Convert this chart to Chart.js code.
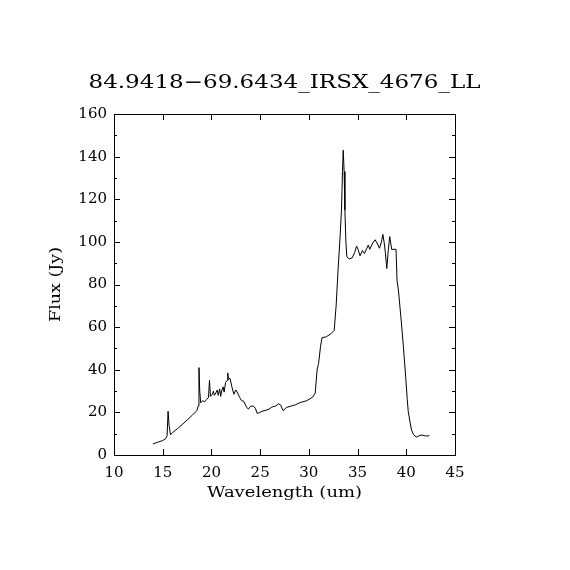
<!DOCTYPE html>
<html>
<head>
<meta charset="utf-8">
<script src="https://cdn.jsdelivr.net/npm/chart.js@4.4.1/dist/chart.umd.min.js"></script>
<style>
  html, body { margin: 0; padding: 0; background: #fff; }
  #wrap { width: 570px; height: 570px; }
</style>
</head>
<body>
<div id="wrap"><canvas id="spec" width="570" height="570"></canvas></div>
<script>
// spectrum
const wavelength = [
  14.0, 14.5, 15.0, 15.3, 15.45, 15.55, 15.65, 15.8, 16.0, 16.5,
  17.0, 17.5, 18.0, 18.5, 18.65, 18.72, 18.8, 18.9, 19.1, 19.3,
  19.5, 19.7, 19.8, 19.9, 20.1, 20.2, 20.3, 20.5, 20.6, 20.7,
  20.85, 20.95, 21.05, 21.2, 21.3, 21.45, 21.6, 21.68, 21.75, 21.9,
  22.1, 22.3, 22.5, 22.7, 22.9, 23.1, 23.3, 23.6, 23.8, 24.0,
  24.3, 24.5, 24.7, 24.9, 25.2, 25.6, 25.9, 26.2, 26.6, 26.9,
  27.1, 27.35, 27.7, 28.2, 28.6, 29.1, 29.8, 30.4, 30.65, 30.85,
  31.0, 31.2, 31.35, 31.8, 32.3, 32.6, 32.8, 33.0, 33.2, 33.35,
  33.45, 33.53, 33.62, 33.7, 33.8, 33.9, 34.15, 34.45, 34.7, 34.9,
  35.05, 35.25, 35.5, 35.7, 35.95, 36.1, 36.25, 36.5, 36.8, 37.05,
  37.25, 37.45, 37.6, 37.75, 37.85, 38.0, 38.15, 38.3, 38.5, 38.95,
  39.05, 39.2, 39.5, 39.7, 39.95, 40.1, 40.2, 40.4, 40.55, 40.75,
  41.05, 41.3, 41.6, 41.9, 42.1, 42.35
];
const flux = [
  5.2, 6.0, 6.8, 7.6, 9.0, 20.5, 14.0, 9.5, 10.5, 12.3,
  14.3, 16.4, 18.5, 20.8, 23.0, 41.0, 30.0, 24.5, 25.5, 25.0,
  26.0, 27.0, 35.0, 27.5, 28.5, 30.0, 28.0, 29.5, 30.5, 28.0,
  31.0, 27.5, 30.0, 32.0, 29.5, 34.0, 35.0, 38.5, 35.5, 36.0,
  32.0, 28.5, 30.5, 29.0, 27.0, 25.5, 25.3, 22.5, 21.5, 22.8,
  23.0, 22.0, 19.5, 19.8, 20.5, 21.0, 21.5, 22.5, 23.0, 24.0,
  23.5, 20.8, 22.3, 23.0, 23.5, 24.6, 25.5, 27.2, 29.0, 40.0,
  43.0, 51.0, 55.0, 55.5, 57.0, 58.5, 70.0, 87.0, 102.0, 115.0,
  133.0, 143.0, 133.0, 115.0, 100.0, 93.0, 92.0, 92.5, 95.0, 98.0,
  96.5, 93.5, 96.0, 94.5, 97.0, 98.5, 96.5, 99.0, 101.0, 99.0,
  97.0, 100.0, 103.5, 99.0, 95.0, 87.5, 96.0, 102.5, 96.5, 96.5,
  82.0, 77.0, 62.0, 51.0, 36.0, 26.0, 20.5, 15.0, 11.5, 9.5,
  8.4, 9.0, 9.4, 9.0, 8.9, 9.1
];

const xRange = [10, 45];
const yRange = [0, 160];
const xStep = 5;
const yStep = 20;
const yMinorStep = 10;

const titleText = '84.9418\u221269.6434_IRSX_4676_LL';
const xLabel = 'Wavelength (um)';
const yLabel = 'Flux (Jy)';

const serif = '"DejaVu Serif", "Liberation Serif", serif';

// the original font is wider than DejaVu, so squeeze/stretch text to a width
function wideText(ctx, text, x, y, size, width) {
  ctx.save();
  ctx.font = size + 'px ' + serif;
  const w = ctx.measureText(text).width;
  ctx.translate(x, y);
  ctx.scale(width / w, 1);
  ctx.fillText(text, 0, 0);
  ctx.restore();
}

// frame + inward ticks on all four sides, plus titles
const framePlugin = {
  id: 'frame',
  afterDraw(chart) {
    const ctx = chart.ctx;
    const a = chart.chartArea;
    const xs = chart.scales.x, ys = chart.scales.y;
    ctx.save();
    ctx.strokeStyle = '#000';
    ctx.lineWidth = 1;
    ctx.strokeRect(a.left + 0.5, a.top + 0.5, a.right - a.left, a.bottom - a.top);
    ctx.beginPath();
    xs.ticks.forEach(t => {
      const px = Math.round(xs.getPixelForValue(t.value)) + 0.5;
      ctx.moveTo(px, a.bottom); ctx.lineTo(px, a.bottom - 6);
      ctx.moveTo(px, a.top); ctx.lineTo(px, a.top + 6);
    });
    for (let v = yRange[0]; v <= yRange[1]; v += yMinorStep) {
      const len = (v % yStep === 0) ? 6 : 3;
      const py = Math.round(ys.getPixelForValue(v)) + 0.5;
      ctx.moveTo(a.left, py); ctx.lineTo(a.left + len, py);
      ctx.moveTo(a.right, py); ctx.lineTo(a.right - len, py);
    }
    ctx.stroke();

    ctx.fillStyle = '#000';
    ctx.textAlign = 'center';
    ctx.textBaseline = 'alphabetic';
    const cx = (a.left + a.right) / 2;
    wideText(ctx, titleText, cx, 88, 19, 392);
    wideText(ctx, xLabel, cx, 497, 15, 155);
    ctx.translate(60, (a.top + a.bottom) / 2);
    ctx.rotate(-Math.PI / 2);
    wideText(ctx, yLabel, 0, 0, 15, 75);
    ctx.restore();
  }
};

new Chart(document.getElementById('spec'), {
  type: 'line',
  data: {
    datasets: [{
      data: wavelength.map((w, i) => ({ x: w, y: flux[i] })),
      borderColor: '#000',
      borderWidth: 1,
      pointRadius: 0,
      tension: 0,
      fill: false
    }]
  },
  options: {
    responsive: false,
    animation: false,
    layout: { padding: { top: 114, right: 115, left: 0, bottom: 0 } },
    plugins: { legend: { display: false }, tooltip: { enabled: false } },
    scales: {
      x: {
        type: 'linear',
        min: xRange[0], max: xRange[1],
        grid: { display: false, drawTicks: false },
        border: { display: false },
        ticks: { stepSize: xStep, padding: 9, color: '#000', maxRotation: 0,
                 font: { family: serif, size: 15 } },
        afterFit(scale) { scale.height = 115; }
      },
      y: {
        min: yRange[0], max: yRange[1],
        grid: { display: false, drawTicks: false },
        border: { display: false },
        ticks: { stepSize: yStep, padding: 7, color: '#000',
                 font: { family: serif, size: 15 } },
        afterFit(scale) { scale.width = 114; }
      }
    }
  },
  plugins: [framePlugin]
});
</script>
</body>
</html>
